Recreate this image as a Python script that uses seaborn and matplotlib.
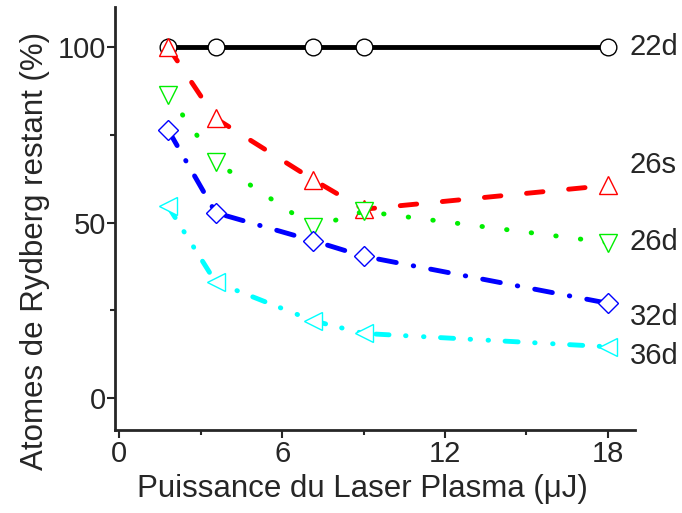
import pandas as pd
import seaborn as sns
import matplotlib.pyplot as plt

# energie du laser plasma (uJ)
energie = [1.8, 3.55, 7.15, 9.0, 18.0]

# fraction restante (%) pour chaque etat de Rydberg
etat_22d = [100, 100, 100, 100, 100]
etat_26s = [100, 79.7, 62.2, 53.8, 60.6]
etat_26d = [86.5, 67.3, 48.7, 53.2, 44.3]
etat_32d = [76.4, 52.8, 44.8, 40.4, 27.0]
etat_36d = [54.6, 33.0, 22.0, 18.4, 14.6]

etats = ['22d', '26s', '26d', '32d', '36d']
series = [etat_22d, etat_26s, etat_26d, etat_32d, etat_36d]

rows = []
for nom, vals in zip(etats, series):
    for e, v in zip(energie, vals):
        rows.append({'energie': e, 'restant': v, 'etat': nom})
df = pd.DataFrame(rows)

sns.set_style('ticks')
plt.rcParams['font.family'] = ['Liberation Sans', 'DejaVu Sans']

# style de chaque courbe
couleurs = {'22d': 'black', '26s': '#ff0000', '26d': '#00ee00', '32d': '#0000ff', '36d': '#00ffff'}
marqueurs = {'22d': 'o', '26s': '^', '26d': 'v', '32d': 'D', '36d': '<'}
tailles = {'22d': 12, '26s': 13, '26d': 13, '32d': 10.5, '36d': 13}
traits = {'22d': '-',
          '26s': (0, (3.4, 5.3)),
          '26d': (0, (0.1, 5.0)),
          '32d': (0, (3.7, 3.55, 0.1, 3.55)),
          '36d': (0, (2.7, 3.4, 0.1, 3.6, 0.1, 3.4))}
pos_label = {'22d': 100, '26s': 66.5, '26d': 44.5, '32d': 23, '36d': 12}

fig = plt.figure(figsize=(6.82, 5.13), dpi=100)
ax = fig.add_axes([0.169, 0.162, 0.762, 0.824])

for nom in etats:
    sub = df[df['etat'] == nom]
    sns.lineplot(data=sub, x='energie', y='restant', ax=ax, color=couleurs[nom],
                 linestyle=traits[nom], linewidth=3.5, dash_capstyle='round',
                 solid_capstyle='round', marker=marqueurs[nom],
                 markersize=tailles[nom], markerfacecolor='white',
                 markeredgecolor=couleurs[nom], markeredgewidth=1.0)
    ax.text(18.8, pos_label[nom], nom, fontsize=21, va='center', ha='left', clip_on=False)

ax.set_xlim(-0.15, 19.0)
ax.set_ylim(-9.1, 111.4)
ax.set_xticks([0, 6, 12, 18])
ax.set_xticks([3, 9, 15], minor=True)
ax.set_yticks([0, 50, 100])
ax.set_yticks([25, 75], minor=True)
ax.tick_params(axis='both', which='major', labelsize=21, length=5.5, width=1.5, direction='out', pad=2)
ax.tick_params(axis='y', which='major', pad=1)
ax.tick_params(axis='both', which='minor', length=3.5, width=1.5, direction='out')
for s in ['left', 'bottom']:
    ax.spines[s].set_linewidth(2)
sns.despine(ax=ax)

ax.set_xlabel('Puissance du Laser Plasma (\u03bcJ)', fontsize=22.5, labelpad=4)
ax.set_ylabel('Atomes de Rydberg restant (%)', fontsize=22.5, labelpad=6)
ax.xaxis.label.set_x(0.475)
ax.yaxis.label.set_y(0.423)

fig.savefig('out.png', dpi=100)
